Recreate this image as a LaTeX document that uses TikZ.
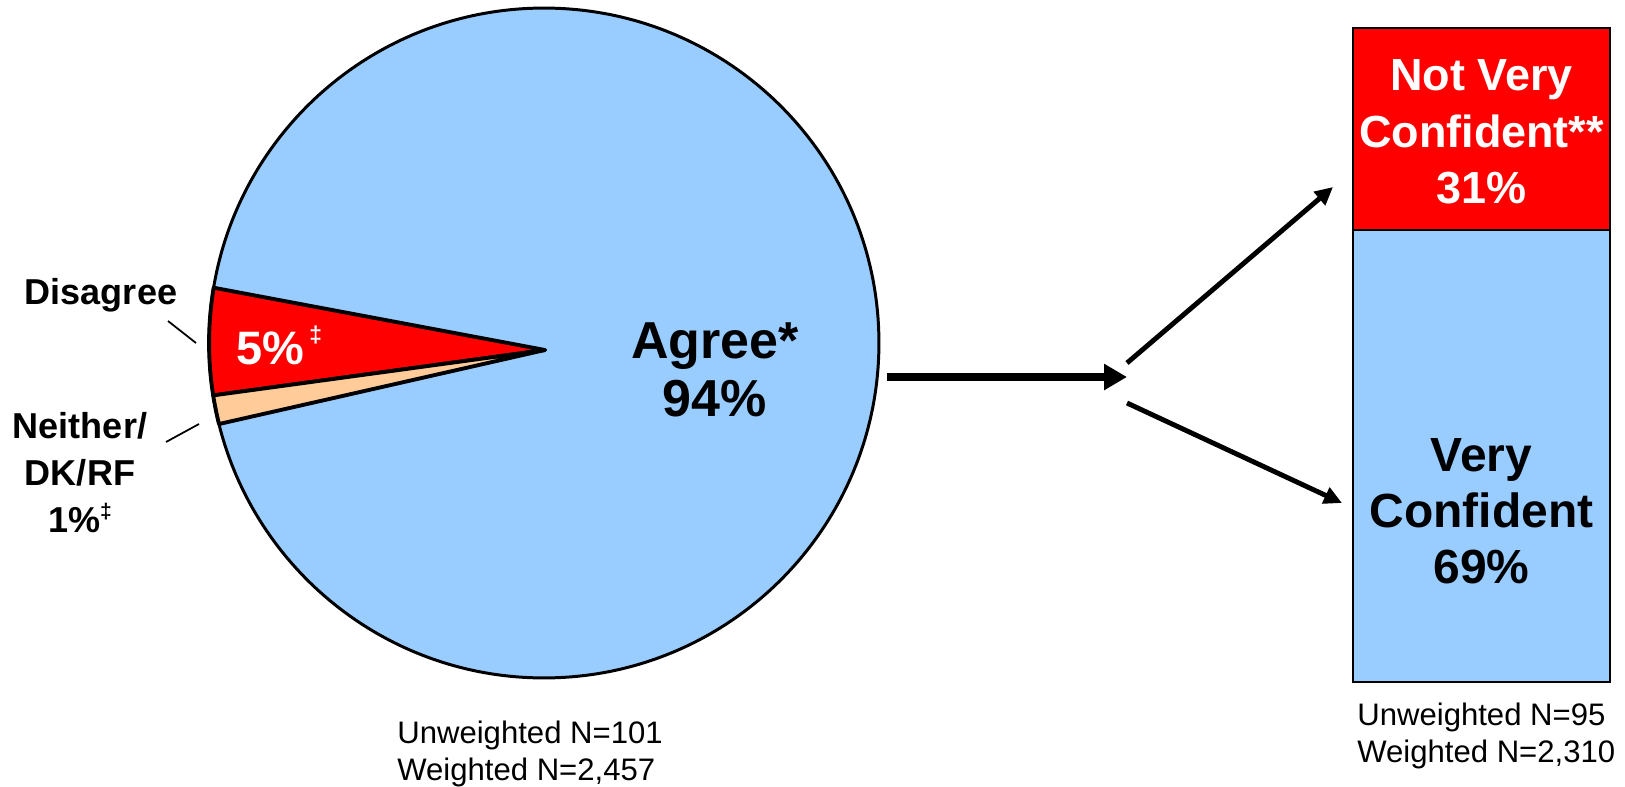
\documentclass[tikz,border=0pt]{standalone}
\usepackage{fontspec}
\setmainfont{Liberation Sans}
\usepackage{tikz}
\usetikzlibrary{arrows.meta}
\usetikzlibrary{positioning}

\definecolor{agreeblue}{HTML}{99CCFF}
\definecolor{neitherpeach}{HTML}{FFCC99}

\tikzset{
  slice/.style={draw=black, line width=2.2pt, line join=round},
  bar/.style={draw=black, line width=1.4pt, minimum width=5.14cm, inner sep=0pt, align=center},
  leader/.style={line width=1pt},
  lbl/.style={font=\bfseries\fontsize{20.5}{26.7}\selectfont, align=center, inner sep=0pt},
  bigarrow/.style={line width=4pt, -{Triangle[length=0.46cm,width=0.5cm]}},
  forkarrow/.style={line width=2.8pt, -{Triangle[length=0.36cm,width=0.34cm]}},
  note/.style={font=\fontsize{17.7}{21}\selectfont, align=left, anchor=north west, inner sep=0pt},
}

\begin{document}
\begin{tikzpicture}[x=0.02cm, y=0.02cm]
  \useasboundingbox (0,0) rectangle (1625,-787);

  % Pie
  \coordinate (c) at (544,-343);
  \coordinate (apex) at (545,-350);
  \draw[line width=1.7pt, fill=agreeblue] (c) circle[radius=6.7cm];
  \draw[slice, fill=red] (apex) -- ([shift={(170.5:6.7cm)}]c) arc[start angle=170.5, end angle=189, radius=6.7cm] -- cycle;
  \draw[slice, fill=neitherpeach] (apex) -- ([shift={(189:6.7cm)}]c) arc[start angle=189, end angle=194, radius=6.7cm] -- cycle;

  \node[font=\bfseries\fontsize{29.6}{33}\selectfont, align=center] (agree) at (715,-370) {Agree*\\94\%};
  \node[font=\bfseries\fontsize{26.7}{32}\selectfont, text=white, anchor=base west, inner sep=0pt] (dispct) at (236,-364)
    {5\%\hspace{3pt}\raisebox{12pt}{\fontsize{13}{13}\selectfont ‡}};

  % Labels outside the pie
  \node[lbl, anchor=base] (disagree) at (101,-304) {Disagree};
  \node[lbl, anchor=north] (neither) at (80,-412) {Neither/\\DK/RF\\1\%\raisebox{8pt}{\fontsize{12}{12}\selectfont ‡}};
  \coordinate (dis-a) at (168,-321);
  \coordinate (dis-b) at (196,-343);
  \coordinate (nei-a) at (166,-442);
  \coordinate (nei-b) at (199,-424);
  \draw[leader] (dis-a) -- (dis-b);
  \draw[leader] (nei-a) -- (nei-b);

  % Arrows
  \coordinate (a0) at (887,-377);
  \coordinate (a1) at (1127,-377);
  \coordinate (up0) at (1127,-363);
  \coordinate (up1) at (1333,-187);
  \coordinate (lo0) at (1127,-403);
  \coordinate (lo1) at (1342,-503);
  \draw[bigarrow] (a0) -- (a1);
  \draw[forkarrow] (up0) -- (up1);
  \draw[forkarrow] (lo0) -- (lo1);

  % Stacked bar
  \node[bar, fill=agreeblue, minimum height=9.04cm] (very) at (1481.5,-456) {};
  \node[bar, fill=red, minimum height=4.04cm] (notvery) at (1481.5,-129) {};
  \node[text=white, font=\bfseries\fontsize{25.6}{32}\selectfont, align=center] (notverytext) at (1481.5,-132)
    {Not Very\\Confident**\\31\%};
  \node[font=\bfseries\fontsize{27.3}{32}\selectfont, align=center] (verytext) at (1481.5,-511) {Very\\Confident\\69\%};

  % Sample sizes
  \node[note] (pienote) at (397,-721) {Unweighted N=101\\Weighted N=2,457};
  \node[note] (barnote) at (1357,-703) {Unweighted N=95\\Weighted N=2,310};
\end{tikzpicture}
\end{document}
